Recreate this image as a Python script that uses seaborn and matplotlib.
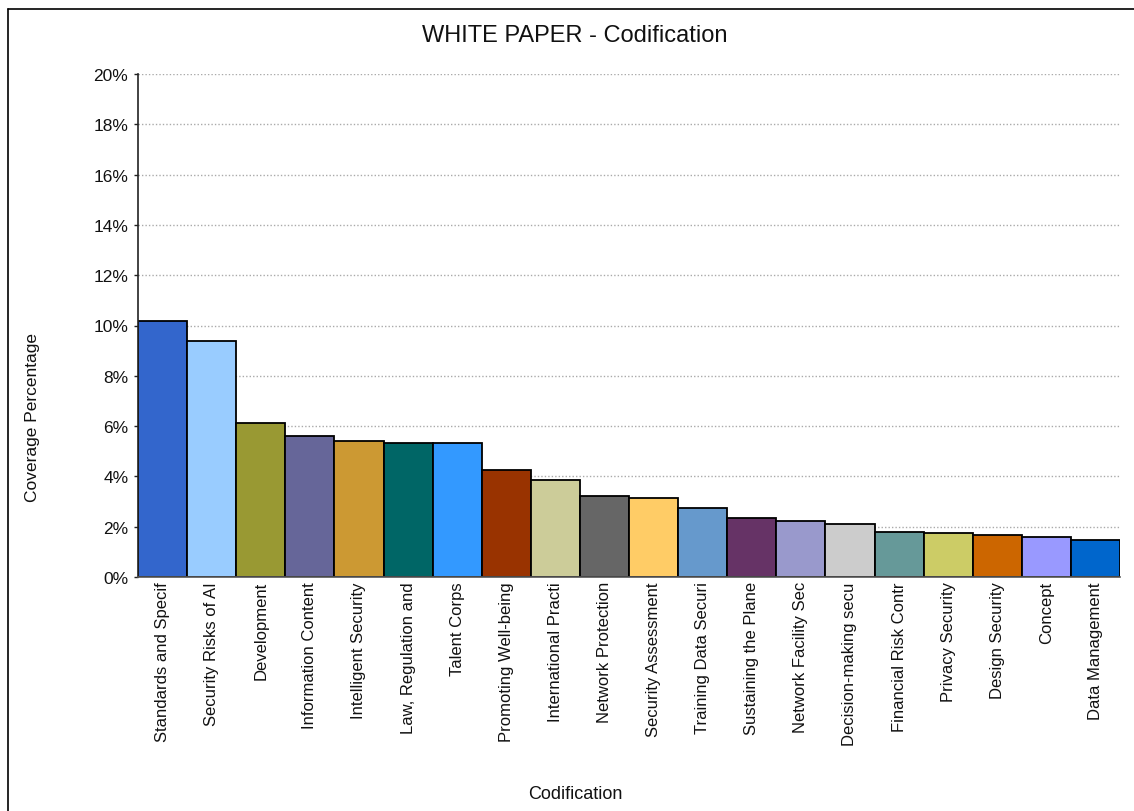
import matplotlib
matplotlib.use("Agg")
import matplotlib.pyplot as plt
from matplotlib.lines import Line2D
from matplotlib.ticker import FuncFormatter, MultipleLocator
import seaborn as sns
import pandas as pd

categories = [
    "Standards and Specif", "Security Risks of AI", "Development",
    "Information Content", "Intelligent Security", "Law, Regulation and",
    "Talent Corps", "Promoting Well-being", "International Practi",
    "Network Protection", "Security Assessment", "Training Data Securi",
    "Sustaining the Plane", "Network Facility Sec", "Decision-making secu",
    "Financial Risk Contr", "Privacy Security", "Design Security",
    "Concept", "Data Management",
]
coverage_pct = [
    10.19, 9.38, 6.14, 5.60, 5.40, 5.33, 5.33, 4.27, 3.86, 3.22,
    3.16, 2.74, 2.35, 2.23, 2.10, 1.79, 1.74, 1.67, 1.59, 1.47,
]
bar_colors = [
    "#3366CC", "#99CCFF", "#999933", "#666699", "#CC9933",
    "#006666", "#3399FF", "#993300", "#CCCC99", "#666666",
    "#FFCC66", "#6699CC", "#663366", "#9999CC", "#CCCCCC",
    "#669999", "#CCCC66", "#CC6600", "#9999FF", "#0066CC",
]

sns.set_theme(style="white")
plt.rcParams["font.family"] = ["Liberation Sans", "DejaVu Sans"]

df = pd.DataFrame({"Codification": categories, "Coverage": coverage_pct})

fig = plt.figure(figsize=(11.34, 8.12), dpi=100)
fig.patch.set_facecolor("white")
ax = fig.add_axes([138 / 1134, 1 - 578 / 812, (1120 - 138) / 1134, (578 - 75) / 812])

sns.barplot(
    data=df, x="Codification", y="Coverage", hue="Codification",
    palette=bar_colors, width=1.0, edgecolor="black", linewidth=1.3,
    legend=False, ax=ax, saturation=1.0,
)

ax.set_xlim(-0.5, len(categories) - 0.5)
ax.set_ylim(0, 20)
ax.yaxis.set_major_locator(MultipleLocator(2))
ax.yaxis.set_major_formatter(FuncFormatter(lambda v, _: f"{v:.0f}%"))
ax.grid(axis="y", linestyle=(0, (1, 1.5)), color="#AAAAAA", linewidth=1.0)
ax.set_axisbelow(True)

for side in ("top", "right"):
    ax.spines[side].set_visible(False)
ax.spines["left"].set_color("#222222")
ax.spines["bottom"].set_color("#555555")
ax.spines["left"].set_linewidth(1.2)
ax.spines["bottom"].set_linewidth(1.2)

ax.tick_params(axis="y", left=True, length=3, width=1, color="#222222",
               labelsize=12.5, pad=4, labelcolor="#111111")
ax.tick_params(axis="x", bottom=False, length=0, labelsize=12, pad=3,
               labelcolor="#111111")
plt.setp(ax.get_xticklabels(), rotation=90, ha="center", va="top")

ax.set_xlabel("")
ax.set_ylabel("")
fig.text(575 / 1134, 1 - 795 / 812, "Codification", ha="center", va="center",
         fontsize=13, color="#111111")
fig.text(33 / 1134, 1 - 418 / 812, "Coverage Percentage", ha="center", va="center",
         rotation=90, fontsize=12.5, color="#111111")
fig.text(575 / 1134, 1 - 36 / 812, "WHITE PAPER - Codification", ha="center",
         va="center", fontsize=17, color="#111111")

# outer frame (top and left edges)
fig.add_artist(Line2D([8 / 1134, 1.0], [1 - 10 / 812, 1 - 10 / 812],
                      transform=fig.transFigure, color="black", linewidth=1.2))
fig.add_artist(Line2D([8 / 1134, 8 / 1134], [0.0, 1 - 10 / 812],
                      transform=fig.transFigure, color="black", linewidth=1.2))

fig.savefig("out.png", dpi=100, facecolor="white")
